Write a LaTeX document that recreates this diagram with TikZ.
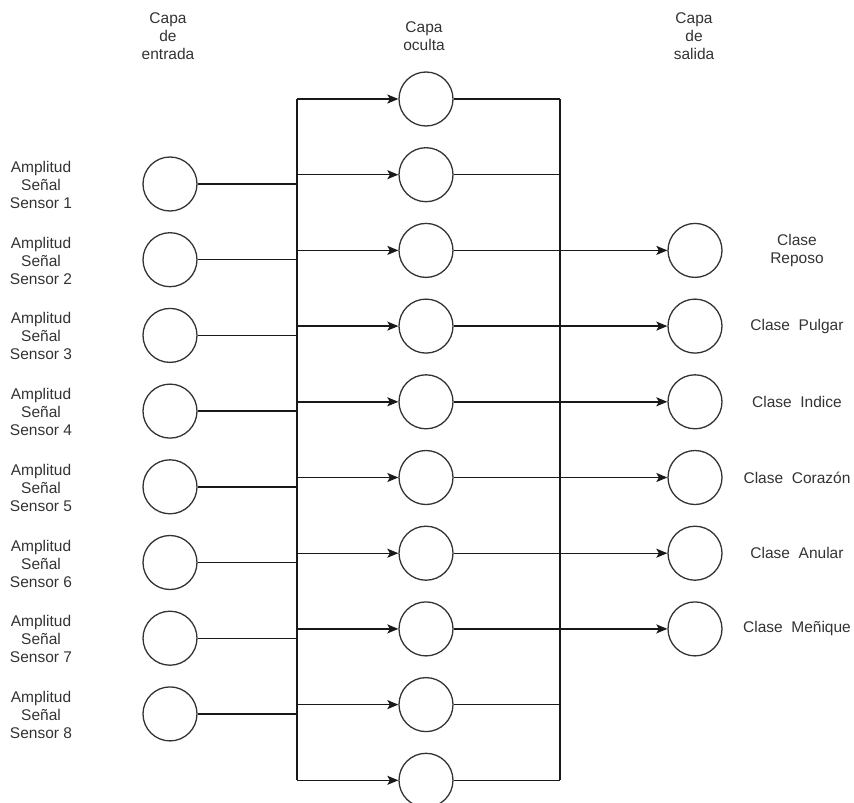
\documentclass[tikz,border=0pt]{standalone}
\usepackage{fontspec}
\setmainfont{Liberation Sans}
\usetikzlibrary{arrows.meta}
\begin{document}
\begin{tikzpicture}[x=1pt,y=-1pt,
  neuron/.style={circle,draw=black!80,line width=1.3pt,minimum size=54pt,inner sep=0pt},
  lbl/.style={align=center,font=\fontsize{15.5}{18}\selectfont,text=black!80},
  wire/.style={line width=1.4pt,draw=black!90},
  arr/.style={wire,-{Stealth[length=11pt,width=9pt,inset=2.5pt]}}]
\useasboundingbox (0,0) rectangle (854,803);
% neurons
\foreach \i in {1,...,8}
  \node[neuron] (in\i) at (170,{184+75.7*(\i-1)}) {};
\foreach \i in {1,...,10}
  \node[neuron] (hid\i) at (426,{99+75.7*(\i-1)}) {};
\foreach \i in {1,...,6}
  \node[neuron] (out\i) at (695,{99+75.7*(\i+1)}) {};
% buses
\coordinate (lbtop) at (297,99);
\coordinate (lbbot) at (297,780);
\coordinate (rbtop) at (560,99);
\coordinate (rbbot) at (560,780);
\draw[wire] (lbtop) -- (lbbot);
\draw[wire] (rbtop) -- (rbbot);
% input lines
\foreach \i in {1,...,8}
  \draw[wire] (in\i.east) -- (lbtop |- in\i);
% hidden arrows and outputs
\foreach \i in {1,...,10}{
  \draw[arr] (lbtop |- hid\i) -- (hid\i.west);
  \draw[wire] (hid\i.east) -- (rbtop |- hid\i);
}
\foreach \i in {1,...,6}
  \draw[arr] (rbtop |- out\i) -- (out\i.west);
% labels
\node[lbl] (t1) at (168,36) {Capa\\de\\entrada};
\node[lbl] (t2) at (424,36) {Capa\\oculta};
\node[lbl] (t3) at (694,36) {Capa\\de\\salida};
\foreach \i in {1,...,8}
  \node[lbl] (lin\i) at (41,{185+75.7*(\i-1)}) {Amplitud\\Señal\\Sensor \i};
\node[lbl] (lo1) at (797,{99+75.7*2}) {Clase\\Reposo};
\node[lbl] (lo2) at (797,{99+75.7*3}) {Clase\ \ Pulgar};
\node[lbl] (lo3) at (797,{99+75.7*4}) {Clase\ \ Indice};
\node[lbl] (lo4) at (797,{99+75.7*5}) {Clase\ \ Corazón};
\node[lbl] (lo5) at (797,{99+75.7*6}) {Clase\ \ Anular};
\node[lbl] (lo6) at (797,{99+75.7*7}) {Clase\ \ Meñique};
\end{tikzpicture}
\end{document}
